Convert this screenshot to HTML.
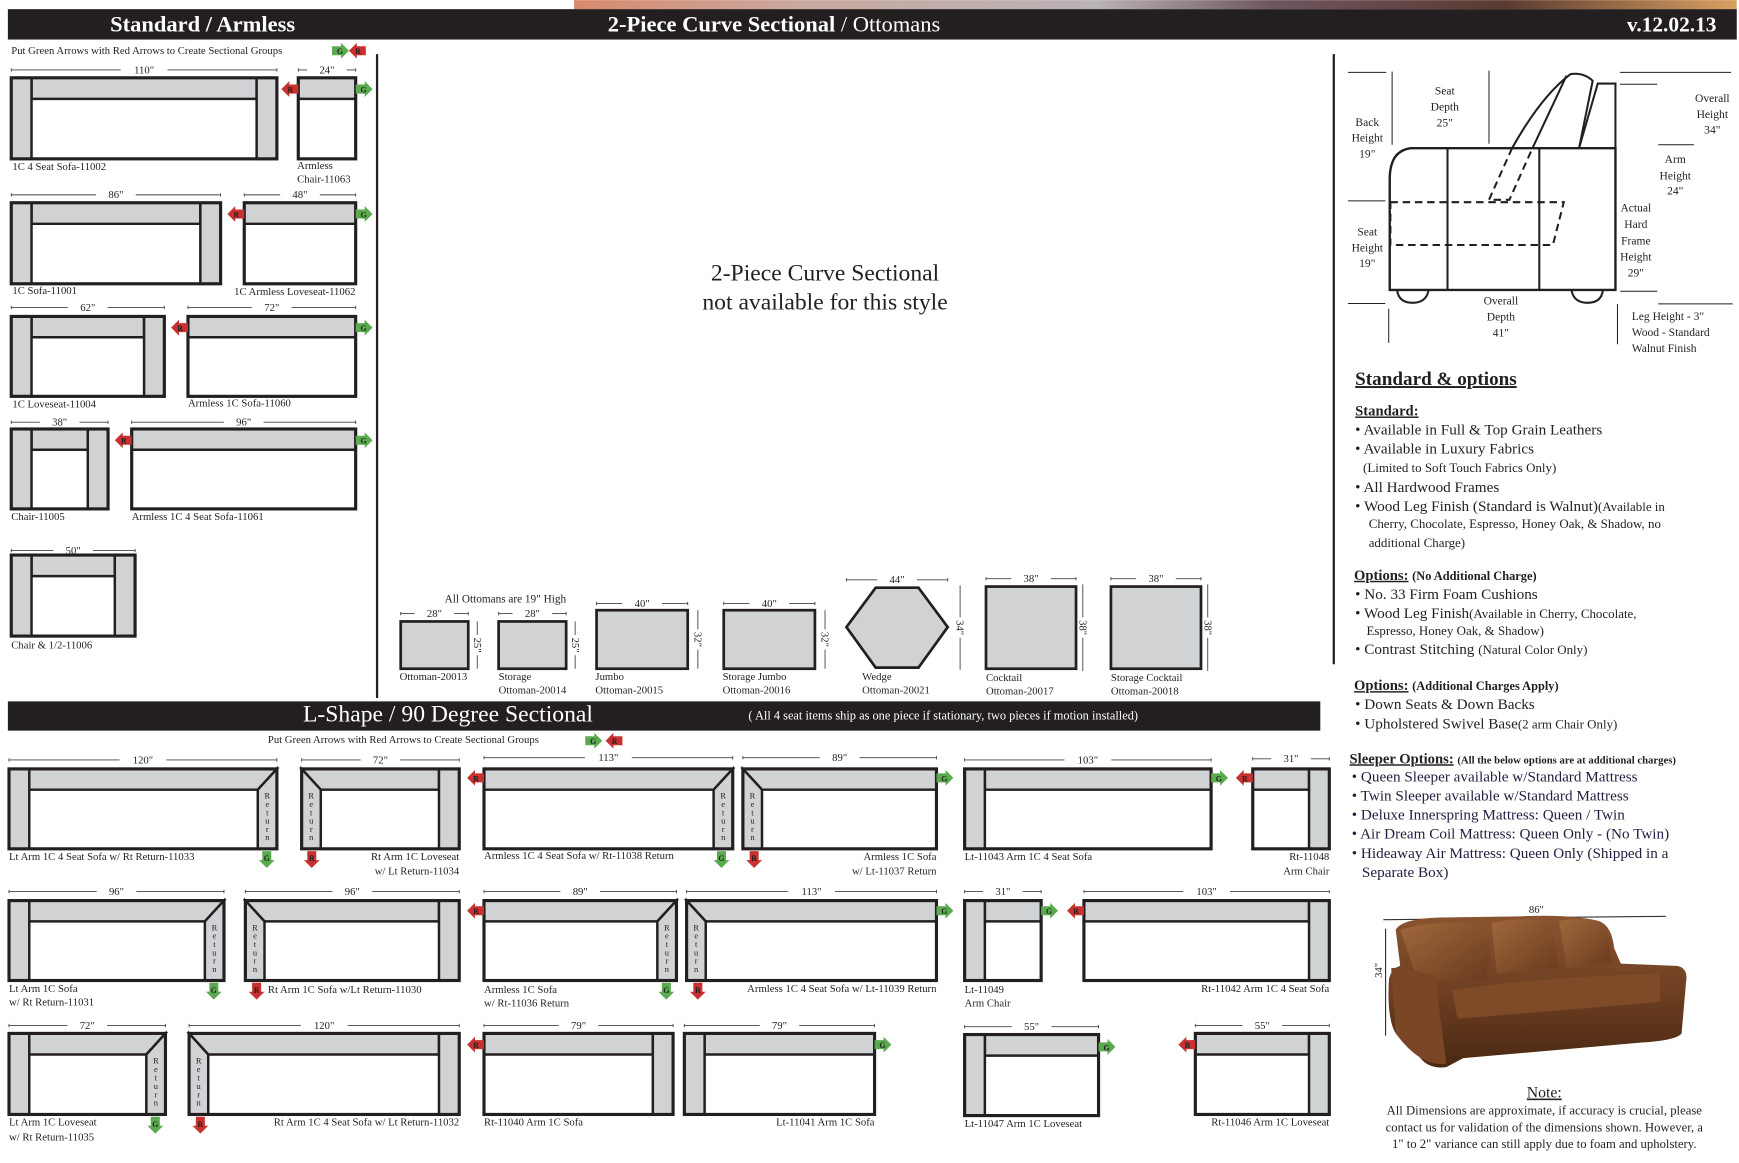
<!DOCTYPE html>
<html><head><meta charset="utf-8"><style>
html,body{margin:0;padding:0;background:#fff;}
svg{display:block;}
text{font-family:"Liberation Serif",serif;fill:#231f20;}
</style></head><body>
<svg id="s" width="1739" height="1163" viewBox="0 0 1545 1033" xmlns="http://www.w3.org/2000/svg">
<defs>
<linearGradient id="ph" x1="0" x2="1" y1="0" y2="0">
<stop offset="0" stop-color="#d98a6e"/><stop offset="0.2" stop-color="#c9a9a0"/><stop offset="0.45" stop-color="#b9b2b6"/><stop offset="0.6" stop-color="#6e5560"/><stop offset="0.8" stop-color="#5a3a30"/><stop offset="1" stop-color="#d9a060"/>
</linearGradient>
<linearGradient id="lea" x1="0" x2="0" y1="0" y2="1">
<stop offset="0" stop-color="#8a5430"/><stop offset="0.5" stop-color="#6e3f22"/><stop offset="1" stop-color="#4a2812"/>
</linearGradient>
<linearGradient id="lea2" x1="0" x2="1" y1="0" y2="1">
<stop offset="0" stop-color="#a0683c"/><stop offset="1" stop-color="#6a3a1e"/>
</linearGradient>
</defs>
<rect x="510" y="0" width="1033" height="8" fill="url(#ph)"/>
<rect x="7" y="8" width="1536" height="27" fill="#231f20"/>
<text x="180" y="28" text-anchor="middle" font-size="20" font-weight="bold" style="fill:#fff">Standard / Armless</text>
<text x="540" y="28" font-size="20" style="fill:#fff"><tspan font-weight="bold">2-Piece Curve Sectional</tspan> / Ottomans</text>
<text x="1525" y="28" text-anchor="end" font-size="19" font-weight="bold" style="fill:#fff">v.12.02.13</text>

<rect x="7" y="623" width="1166" height="26" fill="#231f20"/>
<text x="398" y="641" text-anchor="middle" font-size="21" style="fill:#fff">L-Shape / 90 Degree Sectional</text>
<text x="838" y="639" text-anchor="middle" font-size="11" style="fill:#fff">( All 4 seat items ship as one piece if stationary, two pieces if motion installed)</text>

<line x1="335" y1="48" x2="335" y2="620" stroke="#231f20" stroke-width="2"/>
<line x1="1185" y1="48" x2="1185" y2="590" stroke="#231f20" stroke-width="2"/>

<text x="10" y="48" font-size="9.5">Put Green Arrows with Red Arrows to Create Sectional Groups</text>
<text x="238" y="660" font-size="9.5">Put Green Arrows with Red Arrows to Create Sectional Groups</text>

<text x="733" y="249" text-anchor="middle" font-size="21">2-Piece Curve Sectional</text>
<text x="733" y="275" text-anchor="middle" font-size="21">not available for this style</text>

<text x="449" y="535" text-anchor="middle" font-size="10">All Ottomans are 19" High</text>
<g id="g"></g>

<!-- side diagram -->
<g transform="translate(1190,43) scale(0.302)" fill="none" stroke="#231f20">
<path d="M148,710 L148,380 Q150,300 210,293 L812,293 L812,710 Z" stroke-width="7"/>
<line x1="318" y1="293" x2="318" y2="710" stroke-width="6"/>
<line x1="588" y1="293" x2="588" y2="710" stroke-width="6"/>
<path d="M508,293 C560,200 620,120 680,75 Q720,70 745,95 L705,293" stroke-width="6"/>
<line x1="568" y1="293" x2="668" y2="80" stroke-width="6"/>
<path d="M705,293 L760,103 L812,103 L812,293" stroke-width="6"/>
<path d="M150,452 L660,452 L628,578 L150,578 Z" stroke-width="6" stroke-dasharray="22,14"/>
<path d="M508,293 L440,445 L500,445 L568,293" stroke-width="6" stroke-dasharray="22,14"/>
<path d="M170,712 Q175,748 215,748 Q255,748 262,712 M683,712 Q690,748 730,748 Q770,748 775,712" stroke-width="6"/>
<g stroke-width="3">
<path d="M25,70H138M155,68V283M440,65V280M825,70H1152M825,105H935M938,283H1043M25,448H135M25,750H135M145,765V866M826,714H935M938,751H1157M818,752V870"/>
</g>
<g stroke="none" font-size="34" text-anchor="middle">
<text x="310" y="135">Seat</text><text x="310" y="183">Depth</text><text x="310" y="230">25"</text>
<text x="82" y="228">Back</text><text x="82" y="273">Height</text><text x="82" y="320">19"</text>
<text x="1097" y="157">Overall</text><text x="1097" y="205">Height</text><text x="1097" y="250">34"</text>
<text x="988" y="337">Arm</text><text x="988" y="385">Height</text><text x="988" y="430">24"</text>
<text x="872" y="480">Actual</text><text x="872" y="528">Hard</text><text x="872" y="576">Frame</text><text x="872" y="624">Height</text><text x="872" y="670">29"</text>
<text x="82" y="550">Seat</text><text x="82" y="597">Height</text><text x="82" y="642">19"</text>
<text x="475" y="753">Overall</text><text x="475" y="800">Depth</text><text x="475" y="847">41"</text>
<text x="860" y="798" text-anchor="start">Leg Height - 3"</text><text x="860" y="846" text-anchor="start">Wood - Standard</text><text x="860" y="893" text-anchor="start">Walnut Finish</text>
</g>
</g>

<!-- right text -->
<g font-size="13.5">
<text x="1204" y="342" font-size="17" font-weight="bold" text-decoration="underline">Standard &amp; options</text>
<text x="1204" y="369" font-size="13" font-weight="bold" text-decoration="underline">Standard:</text>
<text x="1204" y="386">• Available in Full &amp; Top Grain Leathers</text>
<text x="1204" y="403">• Available in Luxury Fabrics</text>
<text x="1211" y="419" font-size="11.5">(Limited to Soft Touch Fabrics Only)</text>
<text x="1204" y="437">• All Hardwood Frames</text>
<text x="1204" y="454">• Wood Leg Finish (Standard is Walnut)<tspan font-size="11.5">(Available in</tspan></text>
<text x="1216" y="469" font-size="11.5">Cherry, Chocolate, Espresso, Honey Oak, &amp; Shadow, no</text>
<text x="1216" y="486" font-size="11.5">additional Charge)</text>
<text x="1203" y="515" font-size="13" font-weight="bold"><tspan text-decoration="underline">Options:</tspan> <tspan font-size="11">(No Additional Charge)</tspan></text>
<text x="1204" y="532">• No. 33 Firm Foam Cushions</text>
<text x="1204" y="549">• Wood Leg Finish<tspan font-size="11.5">(Available in Cherry, Chocolate,</tspan></text>
<text x="1214" y="564" font-size="11.5">Espresso, Honey Oak, &amp; Shadow)</text>
<text x="1204" y="581">• Contrast Stitching <tspan font-size="11.5">(Natural Color Only)</tspan></text>
<text x="1203" y="613" font-size="13" font-weight="bold"><tspan text-decoration="underline">Options:</tspan> <tspan font-size="11">(Additional Charges Apply)</tspan></text>
<text x="1204" y="630">• Down Seats &amp; Down Backs</text>
<text x="1204" y="647">• Upholstered Swivel Base<tspan font-size="11.5">(2 arm Chair Only)</tspan></text>
<text x="1199" y="678" font-size="13" font-weight="bold"><tspan text-decoration="underline">Sleeper Options:</tspan> <tspan font-size="9.5">(All the below options are at additional charges)</tspan></text>
<g style="fill:#1f1f3f">
<text x="1201" y="694" style="fill:#1f1f3f">• Queen Sleeper available w/Standard Mattress</text>
<text x="1201" y="711" style="fill:#1f1f3f">• Twin Sleeper available w/Standard Mattress</text>
<text x="1201" y="728" style="fill:#1f1f3f">• Deluxe Innerspring Mattress: Queen / Twin</text>
<text x="1201" y="745" style="fill:#1f1f3f">• Air Dream Coil Mattress: Queen Only - (No Twin)</text>
<text x="1201" y="762" style="fill:#1f1f3f">• Hideaway Air Mattress: Queen Only (Shipped in a</text>
<text x="1210" y="779" style="fill:#1f1f3f">Separate Box)</text>
</g>
</g>

<!-- leather sofa -->
<g>
<line x1="1229" y1="817" x2="1330" y2="816" stroke="#333" stroke-width="1"/>
<line x1="1378" y1="815" x2="1480" y2="814" stroke="#333" stroke-width="1"/>
<text x="1365" y="811" text-anchor="middle" font-size="9.5">86"</text>
<line x1="1231" y1="825" x2="1231" y2="920" stroke="#333" stroke-width="1"/>
<text transform="translate(1228,862) rotate(-90)" text-anchor="middle" font-size="9.5">34"</text>
<path d="M1240,826 Q1245,816 1280,815 L1350,814 Q1395,812 1420,818 Q1432,822 1434,842 L1440,856 L1490,858 Q1500,860 1498,872 L1494,918 Q1490,924 1460,926 L1300,940 L1285,948 Q1270,950 1262,940 L1240,918 Q1232,905 1234,870 Q1236,860 1244,858 Z" fill="url(#lea)"/>
<path d="M1244,826 Q1270,818 1300,820 Q1322,822 1325,845 L1320,870 L1260,872 Z" fill="url(#lea2)"/>
<path d="M1325,820 Q1360,812 1378,820 L1385,860 L1330,865 Z" fill="url(#lea2)"/>
<path d="M1385,818 Q1420,812 1428,825 L1432,855 L1392,860 Z" fill="url(#lea2)"/>
<path d="M1290,880 Q1360,868 1475,865 L1475,890 L1295,905 Z" fill="#7e4a28"/>
<path d="M1236,860 Q1250,858 1275,868 L1285,945 Q1262,948 1240,918 Z" fill="#7a4626"/>
</g>
<text x="1372" y="975" text-anchor="middle" font-size="14" text-decoration="underline">Note:</text>
<text x="1372" y="990" text-anchor="middle" font-size="11.3">All Dimensions are approximate, if accuracy is crucial, please</text>
<text x="1372" y="1005" text-anchor="middle" font-size="11.3">contact us for validation of the dimensions shown. However, a</text>
<text x="1372" y="1020" text-anchor="middle" font-size="11.3">1" to 2" variance can still apply due to foam and upholstery.</text>
</svg>
<script>
var NS="http://www.w3.org/2000/svg",G=document.getElementById('g');
function el(t,a,txt){var e=document.createElementNS(NS,t);for(var k in a)e.setAttribute(k,a[k]);if(txt!=null)e.textContent=txt;G.appendChild(e);return e;}
var GR="#d1d2d4",K="#231f20",SW=2.2;
function txt(x,y,s,anc,fs){el('text',{x:x,y:y,'font-size':fs||9.5,'text-anchor':anc||'start'},s);}
function dim(x1,x2,y,s){var c=(x1+x2)/2,w=s.length*3.2+8;
el('line',{x1:x1,y1:y,x2:c-w,y2:y,stroke:'#444','stroke-width':0.8});
el('line',{x1:c+w,y1:y,x2:x2,y2:y,stroke:'#444','stroke-width':0.8});
el('line',{x1:x1,y1:y-1.5,x2:x1,y2:y+1.5,stroke:'#444','stroke-width':0.8});
el('line',{x1:x2,y1:y-1.5,x2:x2,y2:y+1.5,stroke:'#444','stroke-width':0.8});
txt(c,y+3,s,'middle',9.5);}
function vdim(x,y1,y2,s){var c=(y1+y2)/2;
el('line',{x1:x,y1:y1,x2:x,y2:c-9,stroke:'#444','stroke-width':0.8});
el('line',{x1:x,y1:c+9,x2:x,y2:y2,stroke:'#444','stroke-width':0.8});
el('text',{transform:'translate('+(x-3)+','+c+') rotate(90)','font-size':9.5,'text-anchor':'middle'},s);}
function arrow(x,y,dir,col){var c=col=='g'?'#5aab4f':'#c8312f',L=col=='g'?'G':'R',p;
if(dir=='r')p=[[x,y-4],[x+8,y-4],[x+8,y-7],[x+15,y],[x+8,y+7],[x+8,y+4],[x,y+4]];
else if(dir=='l')p=[[x,y-4],[x-8,y-4],[x-8,y-7],[x-15,y],[x-8,y+7],[x-8,y+4],[x,y+4]];
else p=[[x-4,y],[x+4,y],[x+4,y+8],[x+7,y+8],[x,y+15],[x-7,y+8],[x-4,y+8]];
el('polygon',{points:p.map(function(q){return q.join(',')}).join(' '),fill:c});
var tx=dir=='r'?x+7:dir=='l'?x-7:x,ty=dir=='d'?y+9:y+3;
el('text',{x:tx,y:ty,'font-size':7,'font-weight':'bold','text-anchor':'middle'},L);}
function sofa(x1,x2,y1,y2,o){var aw=18,bh=(y2-y1)*0.26,rw=17;
el('rect',{x:x1,y:y1,width:x2-x1,height:y2-y1,fill:'#fff'});
var L=o.indexOf('L')>=0,R=o.indexOf('R')>=0,l=o.indexOf('l')>=0,r=o.indexOf('r')>=0;
var bl=L?x1+aw:x1,br=R?x2-aw:x2;
var pts=[[l?x1:bl,y1],[r?x2:br,y1],[r?x2-rw:br,y1+bh],[l?x1+rw:bl,y1+bh]];
el('polygon',{points:pts.map(function(q){return q.join(',')}).join(' '),fill:GR,stroke:K,'stroke-width':SW});
if(L)el('rect',{x:x1,y:y1,width:aw,height:y2-y1,fill:GR,stroke:K,'stroke-width':SW});
if(R)el('rect',{x:x2-aw,y:y1,width:aw,height:y2-y1,fill:GR,stroke:K,'stroke-width':SW});
function ret(xa,xb,dx){el('polygon',{points:[[xa,y1],[xa,y2],[xb,y2],[xb,y1+bh]].map(function(q){return q.join(',')}).join(' '),fill:GR,stroke:K,'stroke-width':SW});
var cx=(xa+xb)/2;'Return'.split('').forEach(function(ch,i){el('text',{x:cx,y:y1+bh+8+i*((y2-y1-bh-12)/5.5),'font-size':7.5,'text-anchor':'middle'},ch);});}
if(r)ret(x2,x2-rw);
if(l)ret(x1,x1+rw);
el('rect',{x:x1,y:y1,width:x2-x1,height:y2-y1,fill:'none',stroke:K,'stroke-width':SW+0.6});}
function ott(x1,x2,y1,y2){el('rect',{x:x1,y:y1,width:x2-x1,height:y2-y1,fill:GR,stroke:K,'stroke-width':2.4});}

// header arrows
arrow(295,45,'r','g');arrow(325,45,'l','r');
arrow(520,658,'r','g');arrow(553,658,'l','r');

// Standard / Armless
dim(10,246,62,'110"');sofa(10,246,69,141,'LR');txt(11,151,'1C 4 Seat Sofa-11002');
dim(265,316,62,'24"');sofa(265,316,69,141,'');arrow(265,79,'l','r');arrow(316,79,'r','g');txt(264,150,'Armless');txt(264,162,'Chair-11063');
dim(10,196,173,'86"');sofa(10,196,180,252,'LR');txt(11,261,'1C Sofa-11001');
dim(217,316,173,'48"');sofa(217,316,180,252,'');arrow(217,190,'l','r');arrow(316,190,'r','g');txt(208,262,'1C Armless Loveseat-11062');
dim(10,146,273,'62"');sofa(10,146,281,352,'LR');txt(11,362,'1C Loveseat-11004');
dim(167,316,273,'72"');sofa(167,316,281,352,'');arrow(167,291,'l','r');arrow(316,291,'r','g');txt(167,361,'Armless 1C Sofa-11060');
dim(10,96,375,'38"');sofa(10,96,381,452,'LR');txt(10,462,'Chair-11005');
dim(117,316,375,'96"');sofa(117,316,381,452,'');arrow(117,391,'l','r');arrow(316,391,'r','g');txt(117,462,'Armless 1C 4 Seat Sofa-11061');
dim(10,120,489,'50"');sofa(10,120,493,565,'LR');txt(10,576,'Chair & 1/2-11006');

// Ottomans
dim(356,416,545,'28"');ott(356,416,552,594);vdim(424,552,594,'25"');txt(355,604,'Ottoman-20013');
dim(443,503,545,'28"');ott(443,503,552,594);vdim(511,552,594,'25"');txt(443,604,'Storage');txt(443,616,'Ottoman-20014');
dim(530,611,536,'40"');ott(530,611,542,594);vdim(620,542,594,'32"');txt(529,604,'Jumbo');txt(529,616,'Ottoman-20015');
dim(643,724,536,'40"');ott(643,724,542,594);vdim(733,542,594,'32"');txt(642,604,'Storage Jumbo');txt(642,616,'Ottoman-20016');
dim(752,842,515,'44"');el('polygon',{points:'778,522 816,522 842,557 816,593 778,593 752,557',fill:GR,stroke:K,'stroke-width':2.4});vdim(853,520,595,'34"');txt(766,604,'Wedge');txt(766,616,'Ottoman-20021');
dim(876,956,514,'38"');ott(876,956,521,594);vdim(962,519,596,'38"');txt(876,605,'Cocktail');txt(876,617,'Ottoman-20017');
dim(987,1067,514,'38"');ott(987,1067,521,594);vdim(1073,519,596,'38"');txt(987,605,'Storage Cocktail');txt(987,617,'Ottoman-20018');

// L-shape row 1
dim(8,246,675,'120"');sofa(8,246,683,754,'Lr');arrow(237,756,'d','g');txt(8,764,'Lt Arm 1C 4 Seat Sofa w/ Rt Return-11033');
dim(268,408,675,'72"');sofa(268,408,683,754,'lR');arrow(277,756,'d','r');txt(408,764,'Rt Arm 1C Loveseat','end');txt(408,777,'w/ Lt Return-11034','end');
dim(430,651,673,'113"');sofa(430,651,683,754,'r');arrow(430,691,'l','r');arrow(641,756,'d','g');txt(430,763,'Armless 1C 4 Seat Sofa w/ Rt-11038 Return');
dim(660,832,673,'89"');sofa(660,832,683,754,'l');arrow(832,691,'r','g');arrow(670,756,'d','r');txt(832,764,'Armless 1C Sofa','end');txt(832,777,'w/ Lt-11037 Return','end');
dim(857,1076,675,'103"');sofa(857,1076,683,754,'L');arrow(1076,691,'r','g');txt(857,764,'Lt-11043 Arm 1C 4 Seat Sofa');
dim(1113,1181,674,'31"');sofa(1113,1181,683,754,'R');arrow(1113,691,'l','r');txt(1181,764,'Rt-11048','end');txt(1181,777,'Arm Chair','end');
// row 2
dim(8,199,792,'96"');sofa(8,199,800,871,'Lr');arrow(190,873,'d','g');txt(8,881,'Lt Arm 1C Sofa');txt(8,893,'w/ Rt Return-11031');
dim(218,408,792,'96"');sofa(218,408,800,871,'lR');arrow(228,873,'d','r');txt(238,882,'Rt Arm 1C Sofa w/Lt Return-11030');
dim(430,601,792,'89"');sofa(430,601,800,871,'r');arrow(430,809,'l','r');arrow(592,873,'d','g');txt(430,882,'Armless 1C Sofa');txt(430,894,'w/ Rt-11036 Return');
dim(610,832,792,'113"');sofa(610,832,800,871,'l');arrow(832,809,'r','g');arrow(620,873,'d','r');txt(832,881,'Armless 1C 4 Seat Sofa w/ Lt-11039 Return','end');
dim(857,925,792,'31"');sofa(857,925,800,871,'L');arrow(925,809,'r','g');txt(857,882,'Lt-11049');txt(857,894,'Arm Chair');
dim(963,1181,792,'103"');sofa(963,1181,800,871,'R');arrow(963,809,'l','r');txt(1181,881,'Rt-11042 Arm 1C 4 Seat Sofa','end');
// row 3
dim(8,147,911,'72"');sofa(8,147,918,990,'Lr');arrow(138,992,'d','g');txt(8,1000,'Lt Arm 1C Loveseat');txt(8,1013,'w/ Rt Return-11035');
dim(168,408,911,'120"');sofa(168,408,918,990,'lR');arrow(178,992,'d','r');txt(408,1000,'Rt Arm 1C 4 Seat Sofa w/ Lt Return-11032','end');
dim(430,598,911,'79"');sofa(430,598,918,990,'R');arrow(430,928,'l','r');txt(430,1000,'Rt-11040 Arm 1C Sofa');
dim(608,777,911,'79"');sofa(608,777,918,990,'L');arrow(777,928,'r','g');txt(777,1000,'Lt-11041 Arm 1C Sofa','end');
dim(857,976,912,'55"');sofa(857,976,919,991,'L');arrow(976,930,'r','g');txt(857,1001,'Lt-11047 Arm 1C Loveseat');
dim(1062,1181,911,'55"');sofa(1062,1181,918,990,'R');arrow(1062,928,'l','r');txt(1181,1000,'Rt-11046 Arm 1C Loveseat','end');
</script>
</body></html>
